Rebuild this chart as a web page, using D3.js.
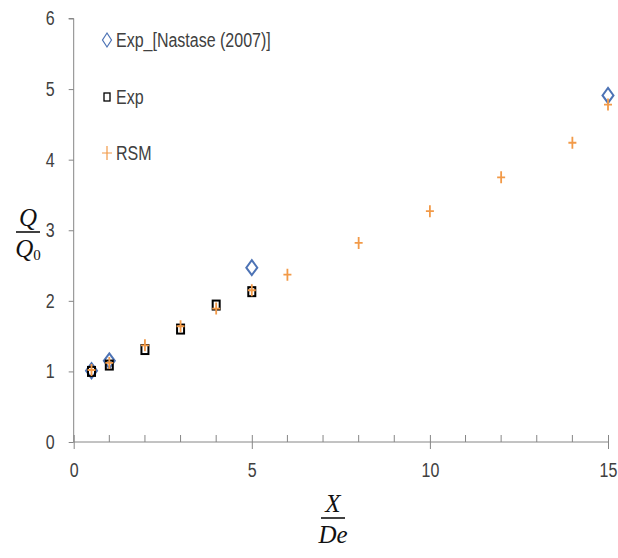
<!DOCTYPE html>
<html><head><meta charset="utf-8">
<script src="https://cdn.jsdelivr.net/npm/d3@7"></script>
<style>body{margin:0;background:#fff}svg{display:block}</style>
</head><body>
<svg id="c" width="618" height="558"></svg>
<script>
const xTicks = [0, 5, 10, 15];
const yTicks = [0, 1, 2, 3, 4, 5, 6];
const nastaseX = [0.5, 1, 5, 15];
const nastaseY = [1.01, 1.15, 2.47, 4.91];
const expX = [0.5, 1, 2, 3, 4, 5];
const expY = [1.0, 1.09, 1.31, 1.60, 1.94, 2.13];
const rsmX = [0.5, 1, 2, 3, 4, 5, 6, 8, 10, 12, 14, 15];
const rsmY = [1.02, 1.12, 1.37, 1.64, 1.89, 2.15, 2.37, 2.82, 3.27, 3.75, 4.24, 4.78];
const legendLabels = ["Exp_[Nastase (2007)]", "Exp", "RSM"];

const svg = d3.select("#c");
const font = "'Liberation Sans',Arial,sans-serif";
const sx = 0.8;
const x = d3.scaleLinear().domain([0, 15]).range([73.7, 608]);
const y = d3.scaleLinear().domain([0, 6]).range([442, 18.5]);
const axisCol = "#868686", textCol = "#404040";

// y axis
const ya = svg.append("g").attr("transform", `translate(${x(0)},0)`)
  .call(d3.axisLeft(y).tickValues(yTicks).tickSize(5).tickPadding(10).tickFormat(d3.format("d")));
ya.select(".domain").attr("stroke", axisCol).attr("d", `M-5,${y(6)}H0V${y(0)}`);
ya.selectAll(".tick line").attr("stroke", axisCol);
ya.selectAll(".tick text").attr("fill", textCol).style("font-family", font).style("font-size", "20px")
  .attr("x", -19 / sx).attr("transform", `scale(${sx},1)`);

// x axis
const xa = svg.append("g").attr("transform", `translate(0,${y(0)})`)
  .call(d3.axisBottom(x).tickValues(xTicks).tickSize(7).tickPadding(14).tickFormat(d3.format("d")));
xa.select(".domain").attr("stroke", axisCol).attr("d", `M${x(0)},0H${x(15)}`);
xa.selectAll(".tick line").attr("stroke", axisCol).attr("y1", -7);
xa.selectAll(".tick text").attr("fill", textCol).style("font-family", font).style("font-size", "20px")
  .attr("transform", `scale(${sx},1)`);
// minor ticks
const minor = d3.range(1, 15).filter(v => v % 5 !== 0);
xa.selectAll(".minor").data(minor).enter().append("line")
  .attr("x1", d => x(d)).attr("x2", d => x(d)).attr("y1", -7).attr("y2", 0).attr("stroke", axisCol);

// markers
const blue = "#4d73b5", orange = "#f29a48";
const diamond = (cx, cy, w, h) => `M${cx},${cy-h}L${cx+w},${cy}L${cx},${cy+h}L${cx-w},${cy}Z`;
const plus = (cx, cy, w, h) => `M${cx-w},${cy}H${cx+w}M${cx},${cy-h}V${cy+h}`;
const g = svg.append("g");
g.selectAll(".dia").data(nastaseX).enter().append("path")
  .attr("d", (d, i) => diamond(x(d), y(nastaseY[i]), 5.5, 7.5))
  .attr("fill", "none").attr("stroke", blue).attr("stroke-width", 2);
g.selectAll(".sq").data(expX).enter().append("rect")
  .attr("x", d => x(d) - 3.5).attr("y", (d, i) => y(expY[i]) - 4.5)
  .attr("width", 7).attr("height", 9)
  .attr("fill", "none").attr("stroke", "#000").attr("stroke-width", 2);
g.selectAll(".pl").data(rsmX).enter().append("path")
  .attr("d", (d, i) => plus(x(d), y(rsmY[i]), 4, 6))
  .attr("fill", "none").attr("stroke", orange).attr("stroke-width", 1.8);

// legend
const lg = svg.append("g");
const ly = [40, 97, 153];
lg.append("path").attr("d", diamond(107, ly[0], 4.5, 7)).attr("fill", "none").attr("stroke", blue).attr("stroke-width", 1.2);
lg.append("rect").attr("x", 104).attr("y", ly[1] - 4).attr("width", 6).attr("height", 8)
  .attr("fill", "none").attr("stroke", "#000").attr("stroke-width", 1.3);
lg.append("path").attr("d", plus(107, ly[2], 5, 7)).attr("fill", "none").attr("stroke", orange).attr("stroke-width", 1.2);
lg.selectAll("text").data(legendLabels).enter().append("text")
  .attr("transform", (d, i) => `translate(116,${ly[i]}) scale(${sx},1)`).attr("dy", "0.35em")
  .attr("fill", textCol).style("font-family", font).style("font-size", "20px").text(d => d);

// axis titles (fractions)
const serif = "'Liberation Serif','DejaVu Serif',serif";
function frac(cx, cy, num, den, sub) {
  const f = svg.append("g");
  f.append("text").attr("x", cx).attr("y", cy - 6).attr("text-anchor", "middle")
    .style("font-family", serif).style("font-style", "italic").style("font-size", "25px").attr("fill", "#111").text(num);
  f.append("line").attr("x1", cx - 12).attr("x2", cx + 12).attr("y1", cy).attr("y2", cy).attr("stroke", "#111").attr("stroke-width", 1.6);
  const t = f.append("text").attr("x", cx).attr("y", cy + 25).attr("text-anchor", "middle")
    .style("font-family", serif).style("font-style", "italic").style("font-size", "25px").attr("fill", "#111").text(den);
  if (sub) t.append("tspan").attr("dy", 3).style("font-size", "15px").style("font-style", "normal").text(sub);
}
frac(28, 232, "Q", "Q", "0");
frac(333, 518, "X", "De", null);
</script>
</body></html>
